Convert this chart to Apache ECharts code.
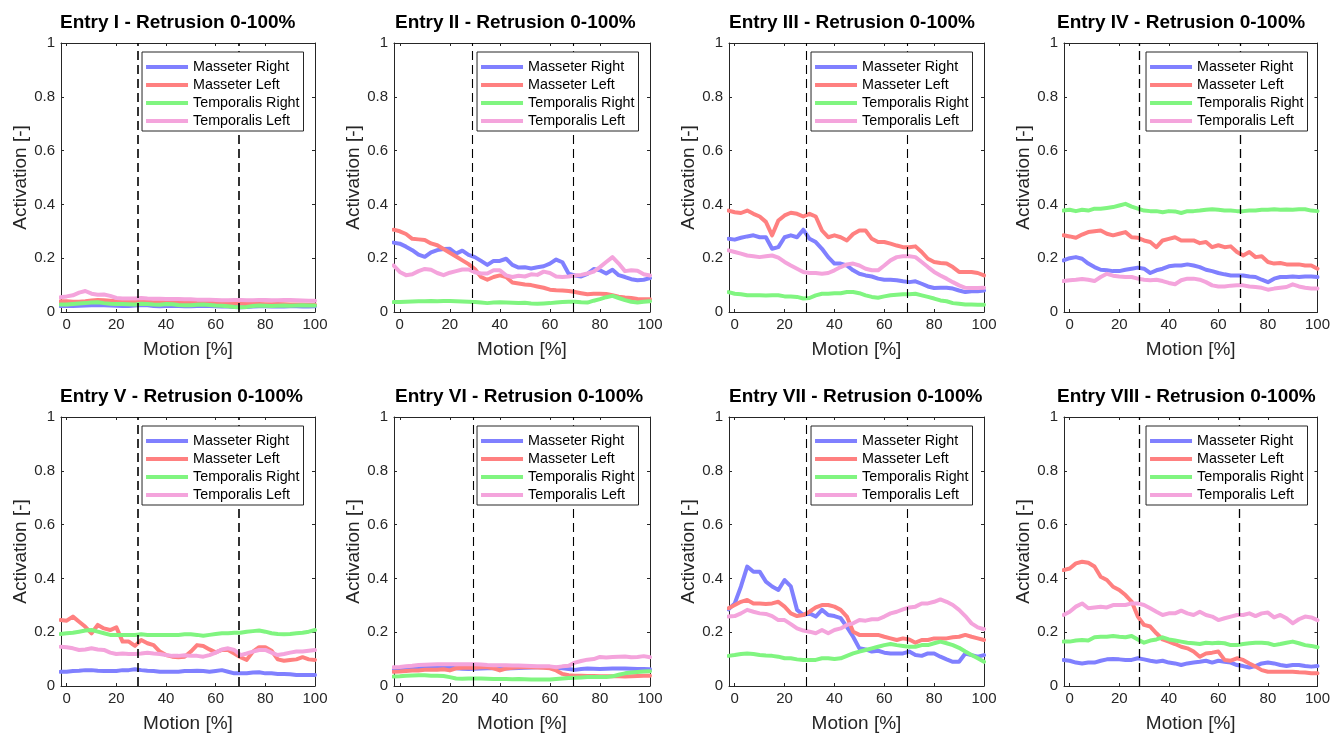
<!DOCTYPE html>
<html>
<head>
<meta charset="utf-8">
<title>Retrusion activation</title>
<script src="https://cdn.jsdelivr.net/npm/echarts@6/dist/echarts.min.js"></script>
<style>
  html, body { margin: 0; padding: 0; background: #ffffff; }
  #chart { width: 1333px; height: 735px; }
</style>
</head>
<body>
<div id="chart"></div>
<script>
// Motion samples (percent of the retrusion movement)
const motion = [-2.5, 0, 2.5, 5, 7.5, 10, 12.5, 15, 17.5, 20, 22.5, 25, 27.5, 30, 32.5, 35, 37.5, 40, 42.5, 45,
  47.5, 50, 52.5, 55, 57.5, 60, 62.5, 65, 67.5, 70, 72.5, 75, 77.5, 80, 82.5, 85, 87.5, 90, 92.5, 95, 97.5, 100];

const muscles = ['Masseter Right', 'Masseter Left', 'Temporalis Right', 'Temporalis Left'];

const entryTitles = [
  'Entry I - Retrusion 0-100%', 'Entry II - Retrusion 0-100%', 'Entry III - Retrusion 0-100%', 'Entry IV - Retrusion 0-100%',
  'Entry V - Retrusion 0-100%', 'Entry VI - Retrusion 0-100%', 'Entry VII - Retrusion 0-100%', 'Entry VIII - Retrusion 0-100%'
];

// Phase boundaries (dashed markers) for each entry, in % of motion
const phaseBounds = [[28.6, 69.2], [29.1, 69.3], [28.7, 69.2], [28.2, 68.7], [28.6, 69.2], [29.2, 69.5], [28.7, 69.2], [28.0, 68.4]];

const xTickValues = [0, 20, 40, 60, 80, 100];

// Entry I
const mr1 = [0.022,0.022,0.022,0.023,0.024,0.025,0.026,0.025,0.024,0.023,0.022,0.022,0.024,0.026,0.025,0.022,0.021,0.022,0.023,0.022,0.021,0.021,0.022,0.023,0.022,0.021,0.020,0.020,0.019,0.018,0.019,0.020,0.021,0.021,0.020,0.020,0.020,0.021,0.021,0.020,0.020,0.021];
const ml1 = [0.040,0.040,0.038,0.038,0.040,0.043,0.045,0.044,0.042,0.040,0.040,0.038,0.037,0.040,0.038,0.036,0.036,0.037,0.038,0.036,0.035,0.034,0.035,0.036,0.035,0.034,0.034,0.033,0.033,0.032,0.031,0.030,0.030,0.029,0.029,0.030,0.029,0.028,0.028,0.028,0.027,0.027];
const tr1 = [0.028,0.028,0.030,0.032,0.033,0.035,0.036,0.033,0.031,0.030,0.030,0.029,0.028,0.031,0.030,0.028,0.027,0.030,0.029,0.026,0.025,0.025,0.027,0.028,0.026,0.024,0.023,0.021,0.019,0.018,0.019,0.022,0.024,0.023,0.022,0.023,0.024,0.023,0.024,0.025,0.024,0.024];
const tl1 = [0.055,0.058,0.062,0.072,0.078,0.068,0.064,0.065,0.060,0.052,0.050,0.050,0.050,0.052,0.050,0.049,0.049,0.048,0.048,0.048,0.047,0.047,0.046,0.046,0.046,0.045,0.044,0.044,0.045,0.045,0.044,0.044,0.045,0.045,0.044,0.044,0.045,0.045,0.044,0.043,0.042,0.042];

// Entry II
const mr2 = [0.258,0.254,0.243,0.230,0.213,0.205,0.222,0.230,0.234,0.235,0.217,0.228,0.212,0.204,0.190,0.175,0.190,0.190,0.198,0.175,0.165,0.166,0.162,0.166,0.170,0.180,0.195,0.185,0.142,0.136,0.132,0.142,0.160,0.155,0.143,0.157,0.137,0.130,0.122,0.118,0.120,0.126];
const ml2 = [0.306,0.300,0.290,0.272,0.270,0.268,0.255,0.248,0.234,0.220,0.206,0.192,0.178,0.160,0.130,0.120,0.130,0.136,0.130,0.110,0.106,0.102,0.100,0.095,0.090,0.083,0.081,0.080,0.078,0.074,0.070,0.066,0.068,0.068,0.067,0.062,0.057,0.054,0.052,0.048,0.047,0.047];
const tr2 = [0.037,0.037,0.038,0.039,0.040,0.040,0.041,0.040,0.041,0.041,0.040,0.039,0.038,0.037,0.035,0.033,0.035,0.036,0.035,0.034,0.033,0.034,0.032,0.031,0.032,0.033,0.035,0.037,0.038,0.038,0.036,0.035,0.042,0.048,0.055,0.060,0.052,0.044,0.038,0.035,0.038,0.040];
const tl2 = [0.173,0.149,0.137,0.140,0.152,0.160,0.157,0.145,0.137,0.146,0.152,0.158,0.158,0.148,0.143,0.143,0.155,0.155,0.136,0.130,0.135,0.132,0.140,0.138,0.150,0.145,0.132,0.130,0.132,0.136,0.138,0.143,0.150,0.167,0.186,0.204,0.180,0.152,0.155,0.153,0.140,0.136];

// Entry III
const mr3 = [0.272,0.269,0.276,0.281,0.285,0.278,0.278,0.235,0.241,0.278,0.285,0.278,0.306,0.272,0.260,0.235,0.204,0.180,0.180,0.173,0.155,0.142,0.136,0.132,0.124,0.120,0.120,0.118,0.114,0.111,0.114,0.105,0.095,0.089,0.090,0.090,0.087,0.080,0.074,0.077,0.077,0.080];
const ml3 = [0.377,0.371,0.368,0.377,0.365,0.355,0.335,0.285,0.340,0.359,0.369,0.365,0.355,0.365,0.355,0.303,0.278,0.285,0.278,0.266,0.290,0.303,0.303,0.272,0.260,0.260,0.254,0.247,0.241,0.241,0.244,0.223,0.198,0.186,0.182,0.180,0.167,0.149,0.149,0.149,0.145,0.136];
const tr3 = [0.074,0.068,0.066,0.062,0.062,0.062,0.061,0.062,0.062,0.058,0.058,0.056,0.050,0.052,0.062,0.068,0.068,0.070,0.070,0.074,0.074,0.070,0.062,0.056,0.053,0.058,0.062,0.064,0.066,0.066,0.068,0.062,0.056,0.050,0.043,0.040,0.033,0.031,0.028,0.028,0.027,0.027];
const tl3 = [0.229,0.223,0.217,0.210,0.207,0.204,0.207,0.210,0.202,0.186,0.173,0.161,0.149,0.145,0.145,0.142,0.145,0.155,0.167,0.177,0.180,0.173,0.161,0.155,0.155,0.173,0.192,0.204,0.207,0.207,0.204,0.186,0.167,0.149,0.136,0.124,0.111,0.099,0.090,0.089,0.089,0.090];

// Entry IV
const mr4 = [0.192,0.200,0.204,0.198,0.180,0.167,0.157,0.155,0.152,0.152,0.157,0.161,0.165,0.161,0.145,0.155,0.161,0.170,0.173,0.173,0.177,0.173,0.167,0.157,0.152,0.145,0.140,0.136,0.136,0.136,0.132,0.130,0.120,0.111,0.124,0.130,0.130,0.132,0.130,0.132,0.132,0.130];
const ml4 = [0.285,0.281,0.276,0.288,0.297,0.300,0.303,0.291,0.285,0.291,0.297,0.278,0.276,0.266,0.260,0.241,0.266,0.272,0.278,0.266,0.266,0.266,0.256,0.260,0.241,0.248,0.241,0.244,0.223,0.210,0.223,0.204,0.207,0.186,0.180,0.182,0.177,0.177,0.177,0.173,0.173,0.161];
const tr4 = [0.377,0.380,0.375,0.380,0.377,0.384,0.384,0.387,0.390,0.396,0.402,0.392,0.384,0.377,0.375,0.375,0.371,0.375,0.374,0.368,0.375,0.375,0.377,0.380,0.382,0.380,0.377,0.377,0.375,0.375,0.377,0.377,0.380,0.380,0.382,0.380,0.381,0.380,0.382,0.382,0.377,0.375];
const tl4 = [0.115,0.118,0.120,0.123,0.120,0.115,0.130,0.142,0.135,0.132,0.130,0.130,0.124,0.120,0.118,0.120,0.115,0.108,0.103,0.118,0.124,0.124,0.120,0.111,0.099,0.095,0.095,0.098,0.099,0.099,0.095,0.093,0.090,0.083,0.087,0.090,0.093,0.103,0.095,0.090,0.087,0.087];

// Entry V
const mr5 = [0.053,0.053,0.056,0.057,0.059,0.059,0.057,0.056,0.056,0.056,0.059,0.059,0.062,0.059,0.057,0.056,0.053,0.053,0.053,0.053,0.056,0.056,0.057,0.056,0.053,0.056,0.059,0.053,0.047,0.047,0.047,0.050,0.051,0.047,0.047,0.045,0.045,0.044,0.041,0.041,0.041,0.041];
const ml5 = [0.245,0.243,0.258,0.239,0.220,0.196,0.227,0.214,0.208,0.218,0.165,0.165,0.149,0.171,0.159,0.152,0.128,0.115,0.109,0.107,0.109,0.128,0.152,0.149,0.136,0.125,0.134,0.134,0.121,0.107,0.097,0.128,0.144,0.144,0.131,0.099,0.094,0.097,0.099,0.107,0.099,0.097];
const tr5 = [0.193,0.196,0.198,0.202,0.206,0.208,0.202,0.196,0.190,0.190,0.190,0.190,0.190,0.192,0.190,0.190,0.190,0.190,0.190,0.190,0.192,0.192,0.190,0.187,0.190,0.193,0.196,0.196,0.198,0.198,0.202,0.204,0.206,0.202,0.196,0.193,0.192,0.193,0.196,0.198,0.202,0.208];
const tl5 = [0.146,0.144,0.140,0.134,0.136,0.140,0.136,0.134,0.124,0.119,0.121,0.119,0.119,0.121,0.124,0.121,0.119,0.115,0.112,0.112,0.114,0.112,0.112,0.109,0.115,0.124,0.136,0.140,0.134,0.115,0.121,0.128,0.134,0.134,0.124,0.115,0.119,0.124,0.128,0.128,0.131,0.134];

// Entry VI
const mr6 = [0.058,0.060,0.063,0.066,0.068,0.068,0.070,0.070,0.070,0.068,0.066,0.064,0.063,0.064,0.065,0.066,0.066,0.067,0.065,0.066,0.067,0.068,0.069,0.070,0.070,0.069,0.068,0.066,0.063,0.060,0.063,0.065,0.064,0.063,0.064,0.065,0.065,0.065,0.064,0.063,0.063,0.062];
const ml6 = [0.053,0.054,0.056,0.058,0.058,0.060,0.060,0.060,0.062,0.058,0.066,0.068,0.068,0.068,0.070,0.070,0.066,0.058,0.065,0.068,0.070,0.070,0.070,0.069,0.068,0.066,0.058,0.045,0.040,0.038,0.038,0.037,0.037,0.036,0.036,0.036,0.036,0.035,0.036,0.037,0.038,0.038];
const tr6 = [0.035,0.036,0.038,0.039,0.040,0.040,0.038,0.038,0.037,0.033,0.028,0.027,0.028,0.028,0.028,0.027,0.026,0.026,0.026,0.025,0.026,0.025,0.024,0.024,0.024,0.024,0.026,0.028,0.030,0.031,0.032,0.033,0.033,0.033,0.033,0.036,0.042,0.047,0.050,0.052,0.054,0.055];
const tl6 = [0.070,0.071,0.073,0.075,0.078,0.079,0.080,0.081,0.081,0.081,0.081,0.081,0.081,0.081,0.080,0.078,0.077,0.077,0.077,0.076,0.076,0.075,0.074,0.073,0.073,0.073,0.070,0.073,0.075,0.087,0.093,0.098,0.100,0.108,0.106,0.108,0.109,0.110,0.107,0.108,0.111,0.107];

// Entry VII
const mr7 = [0.285,0.307,0.370,0.444,0.425,0.425,0.388,0.370,0.357,0.394,0.370,0.283,0.264,0.270,0.258,0.283,0.264,0.260,0.252,0.220,0.183,0.140,0.136,0.128,0.131,0.124,0.121,0.121,0.121,0.128,0.115,0.112,0.121,0.121,0.109,0.099,0.090,0.090,0.121,0.115,0.109,0.115];
const ml7 = [0.289,0.301,0.313,0.320,0.307,0.307,0.305,0.307,0.313,0.295,0.270,0.260,0.264,0.276,0.292,0.301,0.301,0.295,0.283,0.258,0.202,0.190,0.190,0.190,0.190,0.183,0.177,0.171,0.177,0.173,0.161,0.171,0.171,0.177,0.177,0.177,0.181,0.183,0.190,0.183,0.177,0.171];
const tr7 = [0.112,0.115,0.119,0.121,0.119,0.115,0.113,0.112,0.109,0.103,0.103,0.099,0.097,0.097,0.097,0.103,0.103,0.100,0.103,0.112,0.121,0.128,0.134,0.140,0.146,0.152,0.156,0.152,0.149,0.146,0.146,0.152,0.152,0.159,0.165,0.159,0.152,0.142,0.128,0.115,0.103,0.090];
const tl7 = [0.258,0.260,0.270,0.283,0.276,0.270,0.268,0.260,0.245,0.245,0.230,0.214,0.206,0.202,0.196,0.208,0.196,0.208,0.214,0.227,0.233,0.245,0.243,0.248,0.248,0.258,0.270,0.276,0.285,0.292,0.295,0.307,0.307,0.313,0.322,0.313,0.301,0.283,0.260,0.233,0.218,0.211];

// Entry VIII
const mr8 = [0.097,0.094,0.087,0.084,0.087,0.087,0.094,0.099,0.100,0.099,0.097,0.097,0.103,0.099,0.094,0.090,0.094,0.087,0.084,0.078,0.084,0.087,0.090,0.094,0.087,0.094,0.090,0.087,0.078,0.074,0.069,0.074,0.084,0.087,0.084,0.078,0.074,0.078,0.078,0.074,0.072,0.074];
const ml8 = [0.431,0.437,0.456,0.462,0.458,0.444,0.406,0.394,0.369,0.357,0.338,0.314,0.258,0.227,0.221,0.196,0.173,0.165,0.156,0.146,0.140,0.128,0.109,0.121,0.124,0.128,0.097,0.094,0.103,0.097,0.084,0.072,0.059,0.053,0.053,0.053,0.053,0.053,0.051,0.050,0.047,0.047];
const tr8 = [0.165,0.165,0.169,0.171,0.169,0.181,0.183,0.183,0.186,0.183,0.181,0.186,0.173,0.161,0.169,0.173,0.181,0.173,0.169,0.165,0.161,0.159,0.156,0.161,0.159,0.161,0.159,0.152,0.152,0.156,0.159,0.161,0.161,0.159,0.152,0.156,0.161,0.165,0.159,0.152,0.149,0.144];
const tl8 = [0.264,0.276,0.295,0.307,0.289,0.292,0.295,0.292,0.301,0.301,0.301,0.307,0.307,0.301,0.289,0.276,0.264,0.270,0.270,0.280,0.270,0.264,0.276,0.264,0.258,0.245,0.252,0.258,0.264,0.264,0.270,0.260,0.270,0.273,0.255,0.264,0.252,0.233,0.248,0.258,0.255,0.245];

const entrySeries = [
  [mr1, ml1, tr1, tl1], [mr2, ml2, tr2, tl2], [mr3, ml3, tr3, tl3], [mr4, ml4, tr4, tl4],
  [mr5, ml5, tr5, tl5], [mr6, ml6, tr6, tl6], [mr7, ml7, tr7, tl7], [mr8, ml8, tr8, tl8]
];

// ---- styling and layout ----
const muscleColors = ['#8080ff', '#ff8080', '#80f580', '#f4a4dc'];
const fontFamily = '"Liberation Sans", Arial, Helvetica, sans-serif';
const axisColor = '#262626';
const panelLefts = [61, 394, 729, 1064];
const panelWidths = [254, 256, 255, 255];
const titleLefts = [60, 395, 729, 1057];
const rowTops = [43, 417];
const panelHeight = 269;
const dashWidths = [1.6, 1.1, 1.1, 1.3, 1.6, 1.1, 1.1, 1.3];

const chart = echarts.init(document.getElementById('chart'), null, { renderer: 'canvas' });

const grid = [], xAxis = [], yAxis = [], series = [], title = [], legend = [];

entryTitles.forEach((entryTitle, i) => {
  const col = i % 4, row = Math.floor(i / 4);
  const left = panelLefts[col], width = panelWidths[col], top = rowTops[row];

  grid.push({ left: left, top: top, width: width, height: panelHeight, containLabel: false });

  title.push({
    text: entryTitle,
    left: titleLefts[col],
    top: top - 30,
    padding: 0,
    textStyle: { fontFamily: fontFamily, fontSize: 19, fontWeight: 'bold', color: '#000000' }
  });

  const lineAxis = { show: true, onZero: false, lineStyle: { color: axisColor, width: 1 } };
  const innerTick = { show: true, inside: true, length: 3, lineStyle: { color: axisColor, width: 1 } };

  // bottom x axis with labels, top x axis as box edge
  xAxis.push({
    gridIndex: i, type: 'value', position: 'bottom', min: -2.3, max: 100,
    splitLine: { show: false }, axisLine: lineAxis, axisTick: innerTick,
    axisLabel: {
      show: true, margin: 5, showMinLabel: false, showMaxLabel: true,
      color: axisColor, fontFamily: fontFamily, fontSize: 15,
      formatter: v => (xTickValues.indexOf(Math.round(v * 1000) / 1000) >= 0 ? String(v) : '')
    },
    name: 'Motion [%]', nameLocation: 'middle', nameGap: 28,
    nameTextStyle: { color: axisColor, fontFamily: fontFamily, fontSize: 19 }
  });
  xAxis.push({
    gridIndex: i, type: 'value', position: 'top', min: -2.3, max: 100,
    splitLine: { show: false }, axisLine: lineAxis, axisTick: innerTick, axisLabel: { show: false }
  });

  // left y axis with labels, right y axis as box edge
  yAxis.push({
    gridIndex: i, type: 'value', position: 'left', min: 0, max: 1, interval: 0.2,
    splitLine: { show: false }, axisLine: lineAxis, axisTick: innerTick,
    axisLabel: { show: true, margin: 6, color: axisColor, fontFamily: fontFamily, fontSize: 15 },
    name: 'Activation [-]', nameLocation: 'middle', nameGap: 31,
    nameTextStyle: { color: axisColor, fontFamily: fontFamily, fontSize: 19 }
  });
  yAxis.push({
    gridIndex: i, type: 'value', position: 'right', min: 0, max: 1, interval: 0.2,
    splitLine: { show: false }, axisLine: lineAxis, axisTick: innerTick, axisLabel: { show: false }
  });

  entrySeries[i].forEach((values, m) => {
    const s = {
      type: 'line',
      name: muscles[m],
      xAxisIndex: 2 * i,
      yAxisIndex: 2 * i,
      data: motion.map((x, k) => [x, values[k]]),
      showSymbol: false,
      symbol: 'none',
      clip: true,
      color: muscleColors[m],
      itemStyle: { color: muscleColors[m] },
      lineStyle: { width: 4, color: muscleColors[m], join: 'round', cap: 'round' },
      emphasis: { disabled: true },
      animation: false,
      z: 2
    };
    if (m === 3) {
      s.markLine = {
        silent: true,
        symbol: ['none', 'none'],
        label: { show: false },
        emphasis: { disabled: true },
        animation: false,
        lineStyle: { color: '#000000', type: [9, 5], width: dashWidths[i] },
        data: phaseBounds[i].map(b => ({ xAxis: b }))
      };
    }
    series.push(s);
  });

  legend.push({
    show: true,
    data: muscles,
    orient: 'vertical',
    right: 1333 - (left + width - 11.5),
    top: top + 9,
    icon: 'rect',
    itemWidth: 42,
    itemHeight: 4,
    itemGap: 4,
    padding: [8, 4, 3, 4],
    borderColor: axisColor,
    borderWidth: 1,
    borderRadius: 0,
    backgroundColor: '#ffffff',
    selectedMode: false,
    z: 10,
    textStyle: { fontFamily: fontFamily, fontSize: 14.3, lineHeight: 14, color: '#000000' }
  });
});

chart.setOption({
  backgroundColor: '#ffffff',
  animation: false,
  textStyle: { fontFamily: fontFamily },
  title: title,
  legend: legend,
  grid: grid,
  xAxis: xAxis,
  yAxis: yAxis,
  series: series
});
</script>
</body>
</html>
